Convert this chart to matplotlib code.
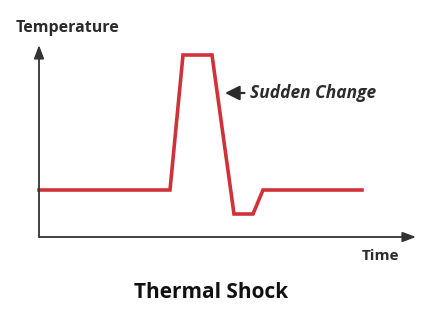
import matplotlib
matplotlib.use("Agg")
import matplotlib.pyplot as plt

time = [0, 13.1, 14.4, 17.3, 19.5, 21.4, 22.4, 32.3]
temperature = [4.7, 4.7, 18.2, 18.2, 2.3, 2.3, 4.7, 4.7]
x_label = "Time"
y_label = "Temperature"
title = "Thermal Shock"
annotation = "Sudden Change"

W, H = 441, 312
fig = plt.figure(figsize=(W / 100, H / 100), dpi=100)
fig.patch.set_facecolor("white")
ax = fig.add_axes([39 / W, (H - 237) / H, (416 - 39) / W, (237 - 45) / H])
ax.set_xlim(0, 37.7)
ax.set_ylim(0, 19.2)
for s in ax.spines.values():
    s.set_visible(False)
ax.set_xticks([])
ax.set_yticks([])
ax.patch.set_alpha(0)

axis_color = "#333333"
ax.annotate("", xy=(1.0, 0), xytext=(0, 0), xycoords="axes fraction",
            arrowprops=dict(arrowstyle="-|>,head_length=0.8,head_width=0.3", color=axis_color, lw=1.3, shrinkA=0, shrinkB=0))
ax.annotate("", xy=(0, 1.0), xytext=(0, 0), xycoords="axes fraction",
            arrowprops=dict(arrowstyle="-|>,head_length=0.8,head_width=0.3", color=axis_color, lw=1.3, shrinkA=0, shrinkB=0))

ax.plot(time, temperature, color="#d0323a", lw=2.6, solid_joinstyle="miter", clip_on=False)

font = "Open Sans"
fig.text(68 / W, 1 - 28 / H, y_label, ha="center", va="center", fontsize=11.5,
         fontweight="bold", family=font, color="#2b2b2b")
fig.text(380 / W, 1 - 256 / H, x_label, ha="center", va="center", fontsize=11,
         fontweight="bold", family=font, color="#2b2b2b")
fig.text(211 / W, 1 - 292 / H, title, ha="center", va="center", fontsize=15,
         fontweight="bold", family=font, color="#111111")

ax.annotate(annotation, xy=(18.6, 14.4), xytext=(21.1, 14.4), xycoords="data",
            textcoords="data", ha="left", va="center", fontsize=12.5,
            fontweight="bold", fontstyle="italic", family=font, color="#2b2b2b",
            arrowprops=dict(arrowstyle="-|>,head_length=0.7,head_width=0.35", color="#2b2b2b", lw=1.6,
                            shrinkA=2, shrinkB=0))

fig.savefig("out.png", dpi=100, facecolor="white")
